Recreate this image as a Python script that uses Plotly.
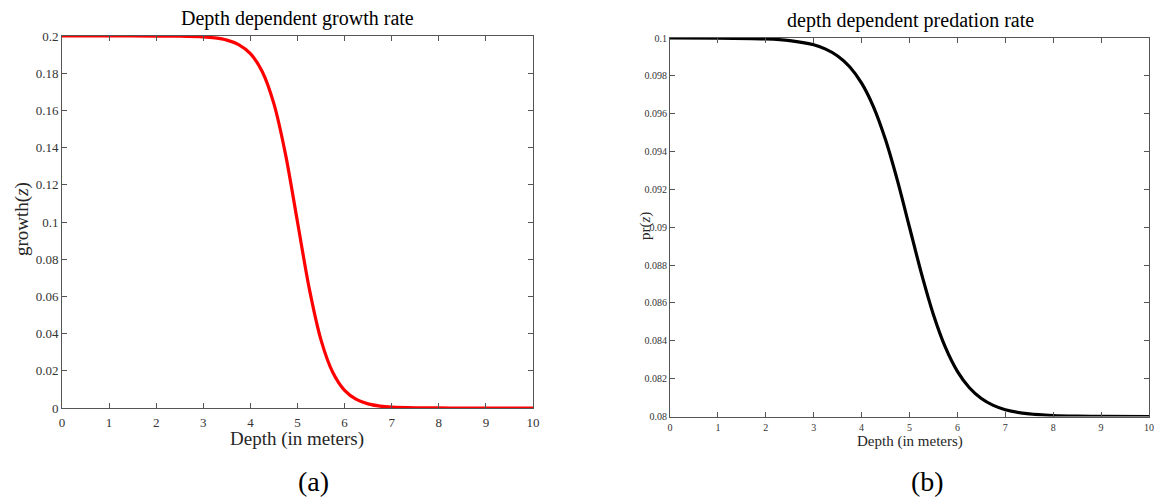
import plotly.graph_objects as go

# Depth (m)
depth = [0, 1, 2, 2.5, 3, 3.25, 3.5, 3.75, 4, 4.25, 4.5, 4.75, 5, 5.25, 5.5,
         5.75, 6, 6.25, 6.5, 6.75, 7, 7.5, 8, 8.5, 9, 10]

growth = [0.2, 0.199999, 0.19998, 0.19989, 0.19951, 0.19896, 0.19780, 0.19540,
          0.19052, 0.18093, 0.16351, 0.13583, 0.1, 0.06417, 0.03649, 0.01907,
          0.00949, 0.00460, 0.00220, 0.00104, 0.000494, 0.000111, 0.000025,
          0.000006, 0.0000012, 0.00000006]

pred = [0.099999, 0.099993, 0.099951, 0.099866, 0.099640, 0.099414, 0.099051,
        0.098483, 0.097616, 0.096352, 0.094621, 0.092449, 0.09, 0.087551,
        0.085379, 0.083649, 0.082384, 0.081517, 0.080949, 0.080586, 0.080360,
        0.080134, 0.080049, 0.080018, 0.0800067, 0.0800009]

x_ticks = list(range(0, 11))
growth_ticks = [0, 0.02, 0.04, 0.06, 0.08, 0.1, 0.12, 0.14, 0.16, 0.18, 0.2]
growth_tick_text = ["0", "0.02", "0.04", "0.06", "0.08", "0.1", "0.12", "0.14", "0.16", "0.18", "0.2"]
pred_ticks = [0.08, 0.082, 0.084, 0.086, 0.088, 0.09, 0.092, 0.094, 0.096, 0.098, 0.1]
pred_tick_text = ["0.08", "0.082", "0.084", "0.086", "0.088", "0.09", "0.092", "0.094", "0.096", "0.098", "0.1"]

FONT = "Liberation Serif"
W, H = 1154, 497

fig = go.Figure()
fig.add_trace(go.Scatter(x=depth, y=growth, mode="lines",
                         line=dict(color="#ff0000", width=3.2, shape="spline", smoothing=0.8),
                         xaxis="x", yaxis="y", showlegend=False, cliponaxis=False))
fig.add_trace(go.Scatter(x=depth, y=pred, mode="lines",
                         line=dict(color="#000000", width=3.2, shape="spline", smoothing=0.8),
                         xaxis="x2", yaxis="y2", showlegend=False, cliponaxis=False))

axis_common = dict(showline=True, linecolor="#555555", linewidth=1, mirror="ticks",
                   ticks="inside", ticklen=5, tickcolor="#555555", showgrid=False,
                   zeroline=False, automargin=False)

L = (62, 533, 36, 408)
R = (670, 1149, 38, 416.5)

fig.update_layout(
    width=W, height=H,
    margin=dict(l=0, r=0, t=0, b=0, pad=0),
    paper_bgcolor="white", plot_bgcolor="white",
    font=dict(family=FONT, color="#262626"),
    xaxis=dict(domain=[L[0] / W, L[1] / W], range=[0, 10], tickvals=x_ticks,
               tickfont=dict(size=13, color="#333333"), anchor="y", ticklabelstandoff=2,
               **axis_common),
    yaxis=dict(domain=[1 - L[3] / H, 1 - L[2] / H], range=[0, 0.2], tickvals=growth_ticks,
               ticktext=growth_tick_text, tickfont=dict(size=13, color="#333333"),
               anchor="x", **axis_common),
    xaxis2=dict(domain=[R[0] / W, R[1] / W], range=[0, 10], tickvals=x_ticks,
                tickfont=dict(size=10, color="#333333"), anchor="y2", ticklabelstandoff=1,
                **axis_common),
    yaxis2=dict(domain=[1 - R[3] / H, 1 - R[2] / H], range=[0.08, 0.1], tickvals=pred_ticks,
                ticktext=pred_tick_text, tickfont=dict(size=10, color="#333333"),
                anchor="x2", **axis_common),
)

def ann(text, x, y, size, angle=0, color="#000000"):
    fig.add_annotation(text=text, x=x / W, y=1 - y / H, xref="paper", yref="paper",
                       showarrow=False, textangle=angle, xanchor="center", yanchor="middle",
                       font=dict(family=FONT, size=size, color=color))

ann("Depth dependent growth rate", 297, 18, 20)
ann("depth dependent predation rate", 910, 20, 20)
ann("Depth (in meters)", 297, 439, 19, color="#262626")
ann("Depth (in meters)", 910, 441, 15, color="#262626")
ann("growth(<i>z</i>)", 22, 219, 19, angle=-90, color="#262626")
ann("pr(<i>z</i>)", 645, 226, 15, angle=-90, color="#262626")
ann("(a)", 313, 481, 28)
ann("(b)", 927, 481, 28)

fig.write_html("out.html")
